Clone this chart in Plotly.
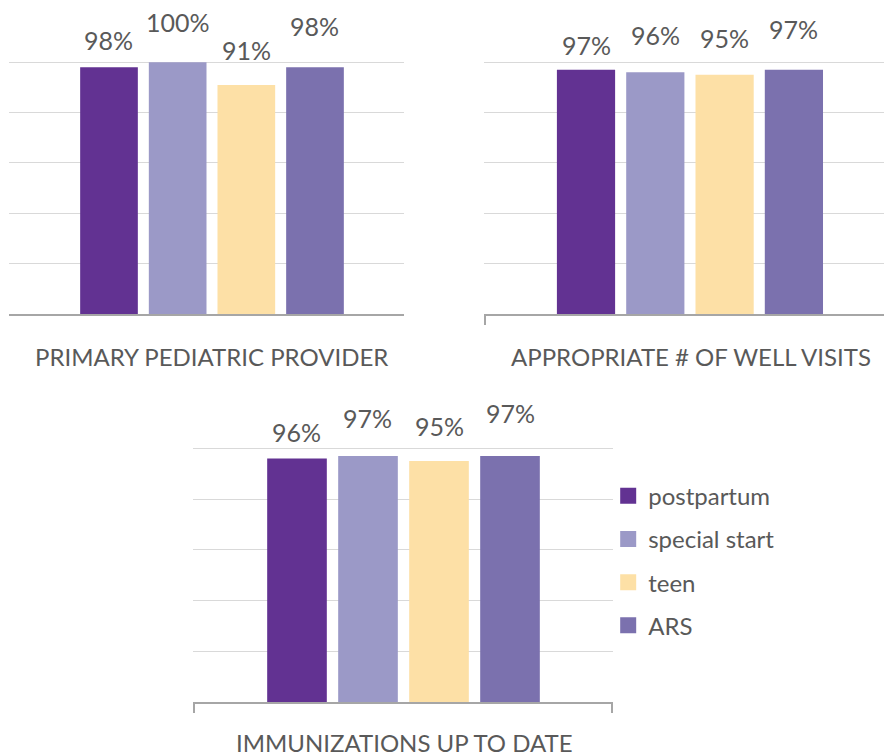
import plotly.graph_objects as go

# series / categories
CATEGORIES = ["postpartum", "special start", "teen", "ARS"]
COLORS = ["#623292", "#9b99c7", "#fde0a6", "#7b71ae"]

# chart titles and values (%)
TITLES = ["PRIMARY PEDIATRIC PROVIDER", "APPROPRIATE # OF WELL VISITS", "IMMUNIZATIONS UP TO DATE"]
primary_provider = [98, 100, 91, 98]
well_visits = [97, 96, 95, 97]
immunizations = [96, 97, 95, 97]
VALUES = [primary_provider, well_visits, immunizations]

# layout tweaks (pixels lifted above each bar for the value labels)
LABEL_LIFT = [[27, 40, 35, 41], [25, 37, 37, 41], [26, 38, 35, 43]]
X_DOMAINS = [[0.0102, 0.4570], [0.5475, 1.0], [0.2183, 0.6934]]
Y_DOMAINS = [[0.5830, 0.9187], [0.5830, 0.9187], [0.0677, 0.4060]]
X_RANGES = [[-1.456, 4.296], [-1.472, 4.30], [-1.465, 4.45]]
EDGE_TICKS = [[], [-1.46], [-1.455, 4.44]]
TITLE_POS = [(0.2398, 0.5272), (0.7817, 0.5272), (0.4576, 0.0133)]

FONT = "Lato"
GREY = "#595959"

fig = go.Figure()
layout = dict(
    width=884, height=753,
    margin=dict(l=0, r=0, t=0, b=0),
    paper_bgcolor="white", plot_bgcolor="white",
    font=dict(family=FONT, color=GREY),
    showlegend=True,
)
annotations = []

for k, vals in enumerate(VALUES):
    sfx = "" if k == 0 else str(k + 1)
    fig.add_trace(go.Bar(
        x=list(range(len(CATEGORIES))), y=vals,
        marker=dict(color=COLORS, line=dict(width=0)),
        width=0.84, showlegend=False, hoverinfo="skip",
        xaxis="x" + sfx, yaxis="y" + sfx,
    ))
    layout["xaxis" + sfx] = dict(
        domain=X_DOMAINS[k], range=X_RANGES[k], anchor="y" + sfx,
        showgrid=False, zeroline=False, showticklabels=False,
        showline=True, linecolor="#a6a6a6", linewidth=2,
        tickmode="array", tickvals=EDGE_TICKS[k],
        ticks="outside" if EDGE_TICKS[k] else "", ticklen=9, tickwidth=2, tickcolor="#a6a6a6",
    )
    layout["yaxis" + sfx] = dict(
        domain=Y_DOMAINS[k], range=[0, 100.4], anchor="x" + sfx,
        showgrid=True, gridcolor="#d9d9d9", gridwidth=1,
        tickmode="array", tickvals=[20, 40, 60, 80, 100],
        zeroline=False, showticklabels=False, showline=False,
    )
    for i, v in enumerate(vals):
        annotations.append(dict(
            x=i, y=v, xref="x" + sfx, yref="y" + sfx,
            text=f"{v}%", showarrow=False, yanchor="middle",
            yshift=LABEL_LIFT[k][i], font=dict(family=FONT, size=25, color=GREY),
        ))
    tx, ty = TITLE_POS[k]
    annotations.append(dict(
        x=tx, y=ty, xref="paper", yref="paper", text=TITLES[k], showarrow=False,
        xanchor="center", yanchor="middle", font=dict(family=FONT, size=24, color=GREY),
    ))

# legend entries
for i, name in enumerate(CATEGORIES):
    fig.add_trace(go.Scatter(
        x=[None], y=[None], mode="markers", name=name, legendgroup=name,
        marker=dict(symbol="square", size=16, color=COLORS[i]),
        xaxis="x3", yaxis="y3",
    ))

layout["legend"] = dict(
    x=0.688, y=0.371, xanchor="left", yanchor="top",
    font=dict(family=FONT, size=24, color=GREY),
    tracegroupgap=9, itemwidth=30, bgcolor="rgba(0,0,0,0)",
)
layout["annotations"] = annotations
fig.update_layout(**layout)

fig.write_html("out.html", config={"displayModeBar": False},
               post_script="document.body.style.margin='0px';")
